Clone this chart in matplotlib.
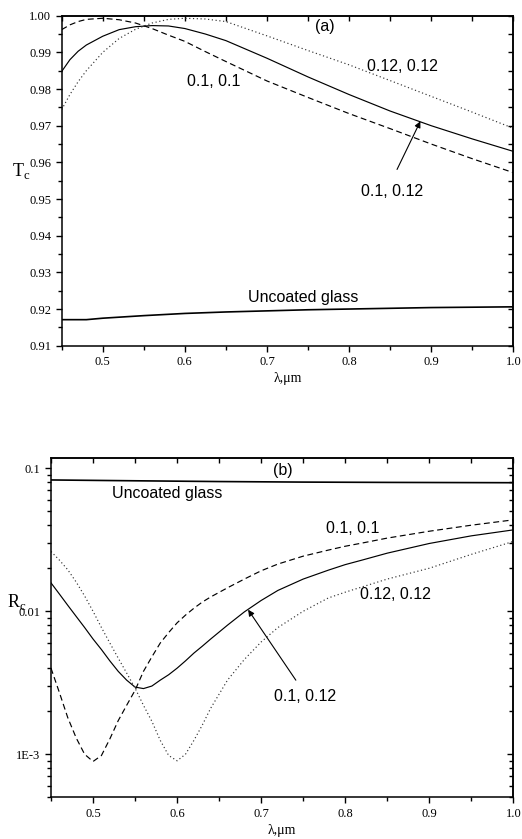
import numpy as np
import matplotlib
matplotlib.use('Agg')
import matplotlib.pyplot as plt
from matplotlib.ticker import MultipleLocator, FormatStrFormatter, FixedLocator, FixedFormatter, NullFormatter, LogLocator

# ---- panel (a): transmittance Tc vs wavelength ----
wl_a = [0.45, 0.46, 0.47, 0.48, 0.50, 0.52, 0.54, 0.56, 0.58, 0.60, 0.625, 0.65,
        0.70, 0.75, 0.80, 0.85, 0.90, 0.95, 1.00]
t_01_012 = [0.9848, 0.9880, 0.9903, 0.9920, 0.9944, 0.9962, 0.9970, 0.9973, 0.9972,
            0.9965, 0.9950, 0.9932, 0.9884, 0.9833, 0.9785, 0.9740, 0.9700, 0.9664, 0.9630]
t_01_01 = [0.9962, 0.9975, 0.9984, 0.9990, 0.9993, 0.9989, 0.9980, 0.9965, 0.9947,
           0.9930, 0.9902, 0.9875, 0.9822, 0.9777, 0.9733, 0.9692, 0.9650, 0.9610, 0.9572]
t_012_012 = [0.9744, 0.9785, 0.9820, 0.9850, 0.9900, 0.9938, 0.9963, 0.9980, 0.9990,
             0.9993, 0.9991, 0.9984, 0.9945, 0.9905, 0.9866, 0.9823, 0.9780, 0.9737, 0.9693]
wl_glass_a = [0.45, 0.48, 0.50, 0.55, 0.60, 0.65, 0.70, 0.75, 0.80, 0.85, 0.90, 0.95, 1.00]
t_glass = [0.9171, 0.9171, 0.9175, 0.9182, 0.9188, 0.9192, 0.9195, 0.9198, 0.9200,
           0.9202, 0.9204, 0.9205, 0.9206]

# ---- panel (b): reflectance Rc vs wavelength ----
wl_b = [0.45, 0.46, 0.47, 0.48, 0.49, 0.50, 0.51, 0.52, 0.53, 0.54, 0.55, 0.56, 0.57,
        0.58, 0.59, 0.60, 0.61, 0.62, 0.63, 0.64, 0.66, 0.68, 0.70, 0.72, 0.75, 0.78,
        0.80, 0.82, 0.85, 0.90, 0.95, 1.00]
r_01_012 = [0.0158, 0.0132, 0.0110, 0.0092, 0.0077, 0.0064, 0.0054, 0.0045, 0.0038,
            0.0033, 0.00295, 0.00288, 0.0030, 0.0033, 0.0036, 0.0040, 0.0045, 0.0051,
            0.0057, 0.0064, 0.0080, 0.0099, 0.0119, 0.0140, 0.0168, 0.0194, 0.0212,
            0.0228, 0.0255, 0.0298, 0.0337, 0.0371]
r_01_01 = [0.0040, 0.0027, 0.0018, 0.0013, 0.00100, 0.00089, 0.00098, 0.00128, 0.00172,
           0.0022, 0.0028, 0.0038, 0.0048, 0.0060, 0.0071, 0.0083, 0.0094, 0.0105,
           0.0116, 0.0126, 0.0146, 0.0168, 0.0192, 0.0214, 0.0243, 0.0268, 0.0285,
           0.0300, 0.0325, 0.0363, 0.0400, 0.0436]
r_012_012 = [0.0262, 0.0228, 0.0195, 0.0160, 0.0128, 0.0100, 0.0077, 0.0060, 0.0047,
             0.0037, 0.0029, 0.0022, 0.0017, 0.00125, 0.00098, 0.00090, 0.00100, 0.00125,
             0.0016, 0.0021, 0.0033, 0.0046, 0.0061, 0.0077, 0.0100, 0.0124, 0.0136,
             0.0148, 0.0168, 0.0200, 0.0250, 0.0308]
wl_glass_b = [0.45, 0.55, 0.65, 0.75, 0.85, 1.00]
r_glass = [0.0829, 0.0818, 0.0808, 0.0801, 0.0797, 0.0793]

x_ticks = [0.5, 0.6, 0.7, 0.8, 0.9, 1.0]

serif = 'Liberation Serif'
sans = 'Liberation Sans'
plt.rcParams['font.family'] = serif
plt.rcParams['axes.linewidth'] = 1.1

W, H = 522, 839
fig = plt.figure(figsize=(W / 100, H / 100), dpi=100)

dash = (0, (5, 3))
dot = (0, (1, 2.2))


def style_axes(ax):
    ax.tick_params(which='major', direction='out', length=4.5, width=1.0,
                   labelsize=9, pad=3)
    ax.tick_params(which='minor', direction='out', length=2.6, width=1.0)
    for lab in ax.get_xticklabels() + ax.get_yticklabels():
        lab.set_fontfamily(serif)


# ---------------- panel (a) ----------------
ax1 = fig.add_axes([61.7 / W, 1 - 345.7 / H, 451.6 / W, 330 / H])
ax1.plot(wl_a, t_01_012, color='k', lw=0.85)
ax1.plot(wl_a, t_01_01, color='k', lw=0.85, linestyle=dash)
ax1.plot(wl_a, t_012_012, color='#333333', lw=0.85, linestyle=dot)
ax1.plot(wl_glass_a, t_glass, color='k', lw=1.2)
ax1.set_xlim(0.45, 1.0)
ax1.set_ylim(0.91, 1.00)
ax1.xaxis.set_major_locator(FixedLocator(x_ticks))
ax1.xaxis.set_minor_locator(MultipleLocator(0.05))
ax1.xaxis.set_major_formatter(FormatStrFormatter('%.1f'))
ax1.yaxis.set_major_locator(MultipleLocator(0.01))
ax1.yaxis.set_minor_locator(MultipleLocator(0.005))
ax1.yaxis.set_major_formatter(FormatStrFormatter('%.2f'))
style_axes(ax1)

top1 = ax1.secondary_xaxis('top')
top1.xaxis.set_major_locator(MultipleLocator(0.05))
top1.tick_params(direction='in', length=3.5, width=1.0, labeltop=False)
right1 = ax1.secondary_yaxis('right')
right1.yaxis.set_major_locator(MultipleLocator(0.005))
right1.tick_params(direction='in', length=3.5, width=1.0, labelright=False)

ax1.set_xlabel('λ,μm', fontsize=10)
ax1.xaxis.set_label_coords(0.5, -0.08)

ax1.text(0.770, 0.99701, '(a)', family=sans, fontsize=11.5, ha='center', va='center')
ax1.text(0.865, 0.98614, '0.12, 0.12', family=sans, fontsize=11.5, ha='center', va='center')
ax1.text(0.6346, 0.98207, '0.1, 0.1', family=sans, fontsize=11.5, ha='center', va='center')
ax1.text(0.7446, 0.92301, 'Uncoated glass', family=sans, fontsize=11.5, ha='center', va='center')
ax1.text(0.8524, 0.95196, '0.1, 0.12', family=sans, fontsize=11.5, ha='center', va='center')
ax1.annotate('', xy=(0.8868, 0.9712), xytext=(0.8584, 0.95807),
             arrowprops=dict(arrowstyle='-|>', lw=0.8, color='k', mutation_scale=9,
                             shrinkA=0, shrinkB=0))

fig.text(12 / W, 1 - 176 / H, r'T$_\mathregular{c}$', fontsize=13, family=serif,
         ha='left', va='baseline')

# ---------------- panel (b) ----------------
ax2 = fig.add_axes([51 / W, 1 - 797.3 / H, 462.3 / W, 339 / H])
ax2.plot(wl_b, r_01_012, color='k', lw=0.85)
ax2.plot(wl_b, r_01_01, color='k', lw=0.85, linestyle=dash)
ax2.plot(wl_b, r_012_012, color='#333333', lw=0.85, linestyle=dot)
ax2.plot(wl_glass_b, r_glass, color='k', lw=1.2)
ax2.set_yscale('log')
ax2.set_xlim(0.45, 1.0)
ax2.set_ylim(5e-4, 0.1175)
ax2.xaxis.set_major_locator(FixedLocator(x_ticks))
ax2.xaxis.set_minor_locator(MultipleLocator(0.05))
ax2.xaxis.set_major_formatter(FormatStrFormatter('%.1f'))
ax2.yaxis.set_major_locator(FixedLocator([1e-3, 1e-2, 1e-1]))
ax2.yaxis.set_major_formatter(FixedFormatter(['1E-3', '0.01', '0.1']))
ax2.yaxis.set_minor_locator(LogLocator(base=10, subs=np.arange(2, 10)))
ax2.yaxis.set_minor_formatter(NullFormatter())
style_axes(ax2)

top2 = ax2.secondary_xaxis('top')
top2.xaxis.set_major_locator(MultipleLocator(0.05))
top2.tick_params(direction='in', length=3.5, width=1.0, labeltop=False)
right2 = ax2.secondary_yaxis('right')
right2.yaxis.set_major_locator(FixedLocator([1e-3, 1e-2, 1e-1]))
right2.yaxis.set_minor_locator(LogLocator(base=10, subs=np.arange(2, 10)))
right2.yaxis.set_minor_formatter(NullFormatter())
right2.tick_params(which='both', direction='in', width=1.0, labelright=False)
right2.tick_params(which='major', length=4.5)
right2.tick_params(which='minor', length=2.6)

ax2.set_xlabel('λ,μm', fontsize=10)
ax2.xaxis.set_label_coords(0.5, -0.079)

ax2.text(0.7252, 0.0973, '(b)', family=sans, fontsize=11.5, ha='center', va='center')
ax2.text(0.5883, 0.0662, 'Uncoated glass', family=sans, fontsize=11.5, ha='center', va='center')
ax2.text(0.8086, 0.0377, '0.1, 0.1', family=sans, fontsize=11.5, ha='center', va='center')
ax2.text(0.8592, 0.01306, '0.12, 0.12', family=sans, fontsize=11.5, ha='center', va='center')
ax2.text(0.7528, 0.002535, '0.1, 0.12', family=sans, fontsize=11.5, ha='center', va='center')
ax2.annotate('', xy=(0.6845, 0.01026), xytext=(0.7413, 0.003297),
             arrowprops=dict(arrowstyle='-|>', lw=0.8, color='k', mutation_scale=9,
                             shrinkA=0, shrinkB=0))

fig.text(7 / W, 1 - 607 / H, r'R$_\mathregular{c}$', fontsize=13, family=serif,
         ha='left', va='baseline')

fig.savefig('out.png', dpi=100)
